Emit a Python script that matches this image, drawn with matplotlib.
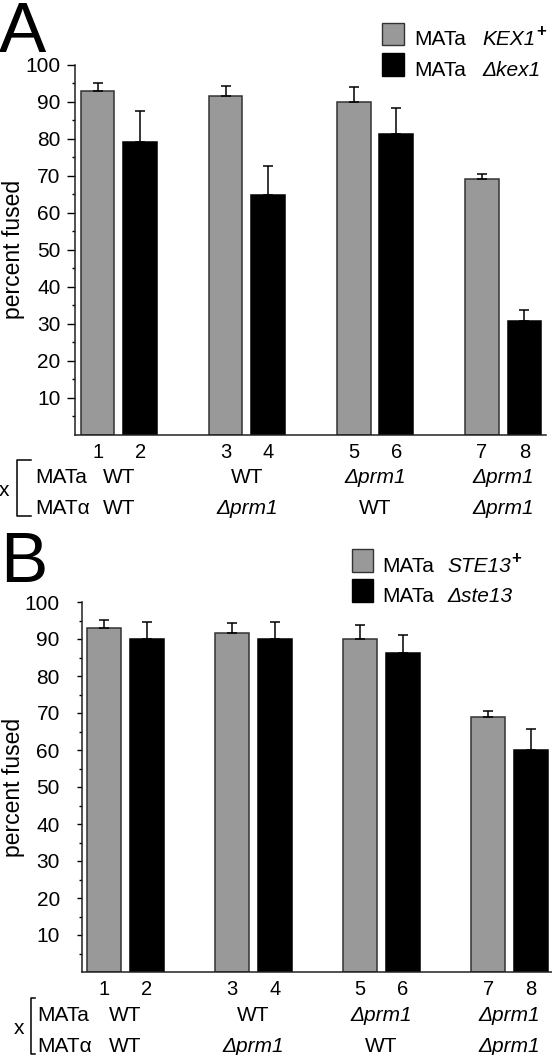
"""Two-panel bar chart: percent fused for MATa KEX1/kex1 and STE13/ste13 crosses."""

import matplotlib

matplotlib.use("Agg")  # headless
import matplotlib.pyplot as plt
from matplotlib.lines import Line2D
from matplotlib.patches import Rectangle

plt.rcParams["font.family"] = ["Liberation Sans", "DejaVu Sans"]

# ---- data -------------------------------------------------------------
bar_numbers = ["1", "2", "3", "4", "5", "6", "7", "8"]
mata_row = ["WT", "WT", "\u0394prm1", "\u0394prm1"]
matalpha_row = ["WT", "\u0394prm1", "WT", "\u0394prm1"]

a_gray = [92.9, 91.6, 89.9, 69.0]
a_gray_err = [2.2, 2.7, 4.1, 1.5]
a_black = [79.1, 64.6, 81.2, 30.8]
a_black_err = [8.4, 7.9, 7.0, 2.9]
a_legend = [("MATa", "KEX1", "+"), ("MATa", "\u0394kex1", "")]

b_gray = [92.9, 91.6, 90.0, 69.0]
b_gray_err = [2.3, 2.8, 3.9, 1.6]
b_black = [90.0, 90.0, 86.2, 60.1]
b_black_err = [4.6, 4.6, 5.0, 5.5]
b_legend = [("MATa", "STE13", "+"), ("MATa", "\u0394ste13", "")]

GRAY = "#999999"
FS = 15
W, H = 552, 1055
fig = plt.figure(figsize=(W / 100, H / 100), dpi=100)
renderer = fig.canvas.get_renderer()


def fx(x):
    return x / W


def fy(y):
    return 1 - y / H


def draw_panel(letter, letter_xy, left, base, pad, ticklen, gray, gray_err, black, black_err,
               legend, box_x, box_rows, text_x, gene_x, bracket_x, arm_x, rows_x):
    ax_h = 370
    ax = fig.add_axes([fx(left), fy(base), 470.7 / W, ax_h / H])
    xg = [3 * g for g in range(len(gray))]
    xb = [3 * g + 1 for g in range(len(black))]
    ax.bar(xg, gray, width=0.79, color=GRAY, edgecolor="#333333", linewidth=1.1, zorder=2)
    ax.bar(xb, black, width=0.79, color="black", edgecolor="black", linewidth=1.1, zorder=2)
    ax.errorbar(xg, gray, yerr=[[0] * len(gray), gray_err], fmt="none", ecolor="black",
                elinewidth=1.1, capsize=3.6, capthick=1.1, zorder=3)
    ax.errorbar(xb, black, yerr=[[0] * len(black), black_err], fmt="none", ecolor="black",
                elinewidth=1.1, capsize=3.6, capthick=1.1, zorder=3)

    ax.set_xlim(-0.53, 10.5)
    ax.set_ylim(0, 100)
    ax.set_yticks(range(10, 101, 10))
    ax.set_yticks(range(5, 100, 10), minor=True)
    ax.tick_params(axis="y", which="major", length=ticklen, width=1.0, pad=pad, labelsize=FS)
    ax.tick_params(axis="y", which="minor", length=2.5, width=1.0)
    ax.set_xticks(sorted(xg + xb))
    ax.set_xticklabels(bar_numbers)
    ax.tick_params(axis="x", length=0, pad=6, labelsize=14.5)
    for s in ("top", "right"):
        ax.spines[s].set_visible(False)
    for s in ("left", "bottom"):
        ax.spines[s].set_linewidth(1.1)
        ax.spines[s].set_color("#222222")

    fig.text(fx(14), fy(base - ax_h / 2), "percent fused", rotation=90,
             ha="center", va="center", fontsize=16.5)

    # strain rows under the bars
    trans = ax.get_xaxis_transform()
    for g in range(len(gray)):
        cx = 3 * g + 0.5
        for row, y_off in ((mata_row, 48.8), (matalpha_row, 79.8)):
            txt = row[g]
            ax.text(cx, -y_off / ax_h, txt, transform=trans, ha="center", va="baseline",
                    fontsize=FS, fontstyle="italic" if txt.startswith("\u0394") else "normal")
    fig.text(fx(rows_x), fy(base + 48.8), "MATa", fontsize=FS, va="baseline")
    fig.text(fx(rows_x), fy(base + 79.8), "MAT\u03b1", fontsize=FS, va="baseline")
    fig.add_artist(Line2D([fx(arm_x), fx(bracket_x), fx(bracket_x), fx(arm_x)],
                          [fy(base + 25.5), fy(base + 25.5), fy(base + 81.5), fy(base + 81.5)],
                          color="black", lw=1.1))
    fig.text(fx(bracket_x - 12), fy(base + 56), "x", fontsize=FS, ha="center", va="center")

    # legend
    for i, (top, bottom) in enumerate(box_rows):
        fig.add_artist(Rectangle((fx(box_x), fy(bottom)), 21.5 / W, (bottom - top) / H,
                                 facecolor=GRAY if i == 0 else "black",
                                 edgecolor="#333333" if i == 0 else "black", lw=1.0))
        strain, gene, sup = legend[i]
        fig.text(fx(text_x), fy(bottom), strain, fontsize=FS, va="baseline")
        t = fig.text(fx(gene_x), fy(bottom), gene, fontsize=FS, va="baseline",
                     fontstyle="italic")
        if sup:
            bb = t.get_window_extent(renderer=renderer)
            fig.text(fx(bb.x1 + 1), fy(bottom - 9), sup, fontsize=12, va="baseline",
                     fontweight="bold")

    fig.text(fx(letter_xy[0]), fy(letter_xy[1]), letter, fontsize=51, va="baseline")
    return ax


draw_panel("A", (-1, 52), 75, 434.5, 5, 5.5, a_gray, a_gray_err, a_black, a_black_err,
           a_legend, 382, [(23, 45), (53, 76)], 414, 482, 16.5, 31, 35)
draw_panel("B", (0, 582), 81.5, 972, 12, 3.6, b_gray, b_gray_err, b_black, b_black_err,
           b_legend, 352, [(549, 572), (579, 602)], 382, 447, 31, 35, 37)

fig.savefig("out.png", dpi=100)
plt.close(fig)
